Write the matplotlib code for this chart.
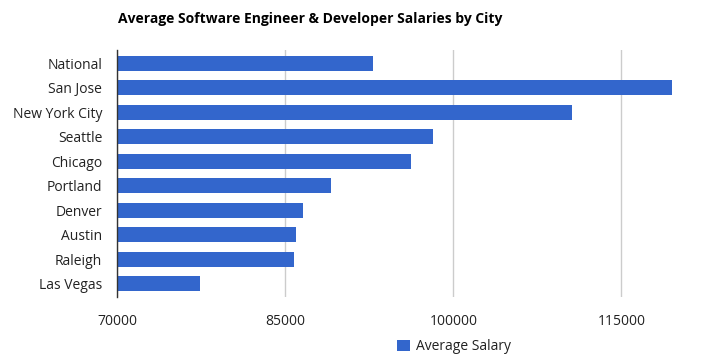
import matplotlib.pyplot as plt
from matplotlib.patches import Patch

plt.rcParams['font.family'] = ['Open Sans', 'DejaVu Sans']

cities = ["National", "San Jose", "New York City", "Seattle", "Chicago",
          "Portland", "Denver", "Austin", "Raleigh", "Las Vegas"]
salaries = [92800, 119500, 110600, 98200, 96200,
            89100, 86600, 85900, 85800, 77400]
x_ticks = [70000, 85000, 100000, 115000]

bar_color = "#3366cc"
text_color = "#222222"

fig = plt.figure(figsize=(7.12, 3.64), dpi=100)
ax = fig.add_axes([0.165, 0.184, 0.818, 0.679])

y = list(range(len(cities)))
ax.barh(y, [s - 70000 for s in salaries], left=70000, height=0.61,
        color=bar_color, zorder=2)

ax.set_ylim(len(cities) - 0.45, -0.55)
ax.set_xlim(70000, 122000)
ax.set_yticks(y)
ax.set_yticklabels(cities, fontsize=10, color=text_color)
ax.set_xticks(x_ticks)
ax.set_xticklabels([str(t) for t in x_ticks], fontsize=10, color=text_color)
ax.tick_params(axis="y", length=0, pad=11)
ax.tick_params(axis="x", length=0, pad=12)

ax.grid(axis="x", color="#cccccc", linewidth=1, zorder=0)
for side in ["top", "right", "bottom"]:
    ax.spines[side].set_visible(False)
ax.spines["left"].set_color("#333333")
ax.spines["left"].set_linewidth(1)
ax.spines["left"].set_zorder(3)

fig.text(118 / 712, 1 - 19 / 364, "Average Software Engineer & Developer Salaries by City",
         fontsize=10, fontweight="bold", color="#000000", va="center", ha="left")

handle = Patch(facecolor=bar_color, edgecolor="none")
fig.legend([handle], ["Average Salary"], loc="center", bbox_to_anchor=(454 / 712, 1 - 347 / 364),
           frameon=False, fontsize=10, handlelength=0.9, handleheight=0.9,
           handletextpad=0.4, labelcolor=text_color)

fig.savefig("out.png", dpi=100)
